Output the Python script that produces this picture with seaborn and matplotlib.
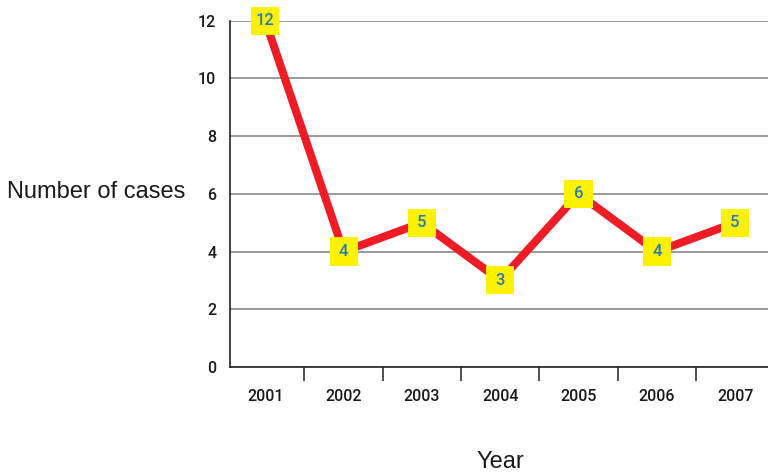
import numpy as np
import pandas as pd
import seaborn as sns
import matplotlib.pyplot as plt

years = ['2001', '2002', '2003', '2004', '2005', '2006', '2007']
cases = [12, 4, 5, 3, 6, 4, 5]

sns.set_theme(style='white')
plt.rcParams['font.family'] = ['Roboto', 'DejaVu Sans']

df = pd.DataFrame({'pos': np.arange(len(years)), 'year': years, 'cases': cases})

fig = plt.figure(figsize=(7.68, 4.75), dpi=100)
ax = fig.add_axes([0.2995, 0.2274, 0.7005, 0.729])

sns.lineplot(data=df, x='pos', y='cases', color='#ee1c25', linewidth=5.8,
             ax=ax, zorder=3, clip_on=False)
sns.scatterplot(data=df, x='pos', y='cases', marker='s', s=410,
                color='#fff200', edgecolor='none', ax=ax, zorder=4,
                clip_on=False)
for p, v in zip(df['pos'], df['cases']):
    ax.text(p, v, str(v), ha='center', va='center', color='#2a7ab8',
            fontsize=12, fontweight='medium', zorder=5)

ax.set_xlim(-0.45, 6.42)
ax.set_ylim(0, 12)
ax.set_yticks(range(0, 13, 2))
ax.yaxis.grid(True, color='#8a8a8a', linewidth=1.2)
ax.set_axisbelow(True)

ax.set_xticks(df['pos'])
ax.set_xticklabels(years, fontweight='medium')
ax.set_xticks(np.arange(0.5, 6, 1), minor=True)
ax.tick_params(axis='x', which='major', length=0, pad=16, labelsize=11.5,
               labelcolor='#1a1a1a')
ax.tick_params(axis='x', which='minor', length=10, width=1.2, color='#333333',
               direction='out', bottom=True)
ax.tick_params(axis='y', length=0, pad=10, labelsize=11.5, labelcolor='#1a1a1a')
for lab in ax.get_yticklabels():
    lab.set_fontweight('medium')

for s in ['top', 'right']:
    ax.spines[s].set_visible(False)
for s in ['left', 'bottom']:
    ax.spines[s].set_color('#222222')
    ax.spines[s].set_linewidth(1.2)

ax.set_xlabel('')
ax.set_ylabel('')
fig.text(0.1257, 0.596, 'Number of cases', ha='center', va='center',
         fontsize=17, color='#1a1a1a', family=['Liberation Sans', 'DejaVu Sans'])
fig.text(0.651, 0.028, 'Year', ha='center', va='center',
         fontsize=17, color='#1a1a1a', family=['Liberation Sans', 'DejaVu Sans'])

fig.savefig('out.png', dpi=100)
